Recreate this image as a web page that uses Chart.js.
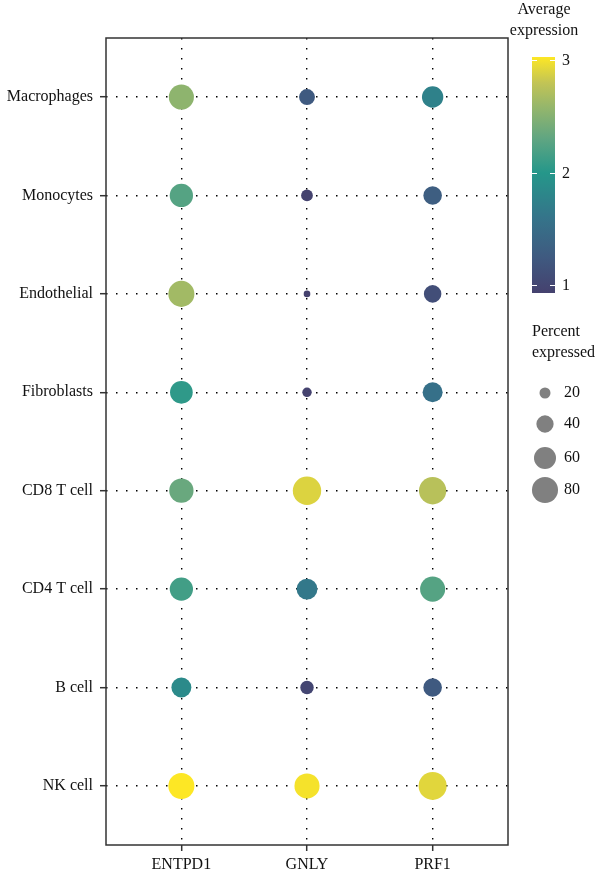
<!DOCTYPE html>
<html lang="en">
<head>
<meta charset="UTF-8">
<title>Dot plot</title>
<script src="https://cdn.jsdelivr.net/npm/chart.js"></script>
<style>
  html, body { margin: 0; padding: 0; background: #fff; }
</style>
</head>
<body>
<canvas id="dotPlot" width="600" height="871"></canvas>
<script>
// data
const genes = ["ENTPD1", "GNLY", "PRF1"];
const cellTypes = ["Macrophages", "Monocytes", "Endothelial", "Fibroblasts",
                   "CD8 T cell", "CD4 T cell", "B cell", "NK cell"];
// average expression, one row per cell type: ENTPD1, GNLY, PRF1
const avgExpr = [
  [2.55, 1.25, 1.75],
  [2.25, 0.95, 1.30],
  [2.65, 0.93, 1.10],
  [2.05, 0.95, 1.55],
  [2.35, 2.90, 2.75],
  [2.15, 1.65, 2.25],
  [1.85, 1.00, 1.25],
  [3.03, 3.00, 2.92]
];
// percent expressed, same layout
const pctExpr = [
  [75, 35, 57],
  [66, 22, 45],
  [80, 10, 41],
  [63, 16, 51],
  [71, 93, 87],
  [66, 55, 75],
  [51, 27, 45],
  [80, 75, 91]
];
const colorTicks = [1, 2, 3];
const sizeTicks = [20, 40, 60, 80];

// colour scale (viridis-like, as rendered in the figure)
const colorMin = 0.93, colorMax = 3.03;
const colorStops = [
  [0.93, '#45416e'],
  [1.25, '#3f5a80'],
  [1.60, '#35748a'],
  [2.00, '#25978a'],
  [2.30, '#5fa582'],
  [2.60, '#98b76a'],
  [2.80, '#c2c455'],
  [3.03, '#fde725']
];
function hexToRgb(h) {
  return [parseInt(h.slice(1, 3), 16), parseInt(h.slice(3, 5), 16), parseInt(h.slice(5, 7), 16)];
}
function colorFor(v) {
  if (v <= colorStops[0][0]) return colorStops[0][1];
  for (let i = 1; i < colorStops.length; i++) {
    if (v <= colorStops[i][0]) {
      const a = colorStops[i - 1], b = colorStops[i];
      const t = (v - a[0]) / (b[0] - a[0]);
      const ca = hexToRgb(a[1]), cb = hexToRgb(b[1]);
      const c = ca.map((x, k) => Math.round(x + (cb[k] - x) * t));
      return `rgb(${c[0]},${c[1]},${c[2]})`;
    }
  }
  return colorStops[colorStops.length - 1][1];
}
function radiusFor(p) {
  return Math.max(2.5, -2 + 1.68 * Math.sqrt(p));
}

const points = [];
cellTypes.forEach((c, i) => {
  genes.forEach((g, j) => {
    points.push({ x: j, y: i, avg: avgExpr[i][j], pct: pctExpr[i][j] });
  });
});

const fontFamily = '"Liberation Serif", "DejaVu Serif", serif';
const fontSize = 16;
const textColor = '#111';

// frame + the two legends on the right
const legendPlugin = {
  id: 'legendPlugin',
  afterDraw(chart) {
    const ctx = chart.ctx;
    const a = chart.chartArea;
    ctx.save();
    ctx.strokeStyle = '#333';
    ctx.lineWidth = 1.5;
    ctx.strokeRect(a.left, a.top, a.right - a.left, a.bottom - a.top);

    ctx.fillStyle = textColor;
    ctx.font = fontSize + 'px ' + fontFamily;
    ctx.textBaseline = 'middle';

    // colour bar
    ctx.textAlign = 'center';
    ctx.fillText('Average', 544, 10);
    ctx.fillText('expression', 544, 31);
    const bx = 532, bw = 23, bTop = 57, bBot = 293;
    const yOf = v => bBot - (v - colorMin) / (colorMax - colorMin) * (bBot - bTop);
    const grad = ctx.createLinearGradient(0, bBot, 0, bTop);
    colorStops.forEach(s => grad.addColorStop((s[0] - colorMin) / (colorMax - colorMin), s[1]));
    ctx.fillStyle = grad;
    ctx.fillRect(bx, bTop, bw, bBot - bTop);
    ctx.strokeStyle = '#fff';
    ctx.lineWidth = 1;
    ctx.textAlign = 'left';
    colorTicks.forEach(v => {
      const y = Math.round(yOf(v)) + 0.5;
      ctx.beginPath();
      ctx.moveTo(bx, y); ctx.lineTo(bx + 5, y);
      ctx.moveTo(bx + bw - 5, y); ctx.lineTo(bx + bw, y);
      ctx.stroke();
      ctx.fillStyle = textColor;
      ctx.fillText(String(v), 562, y);
    });

    // size legend
    ctx.fillStyle = textColor;
    ctx.fillText('Percent', 532, 332);
    ctx.fillText('expressed', 532, 353);
    const sizeY = [393, 424, 458, 490];
    sizeTicks.forEach((p, k) => {
      ctx.fillStyle = '#808080';
      ctx.beginPath();
      ctx.arc(545, sizeY[k], radiusFor(p), 0, Math.PI * 2);
      ctx.fill();
      ctx.fillStyle = textColor;
      ctx.fillText(String(p), 564, sizeY[k]);
    });
    ctx.restore();
  }
};

const gridOpts = {
  color: '#000',
  lineWidth: 1.4,
  tickLength: 6,
  tickColor: '#333',
  tickWidth: 1.5,
  tickBorderDash: []
};

new Chart(document.getElementById('dotPlot'), {
  type: 'scatter',
  data: {
    datasets: [{
      data: points,
      pointRadius: ctx => radiusFor(ctx.raw.pct),
      pointHoverRadius: ctx => radiusFor(ctx.raw.pct),
      pointBackgroundColor: ctx => colorFor(ctx.raw.avg),
      pointBorderWidth: 0,
      pointHoverBorderWidth: 0
    }]
  },
  options: {
    responsive: false,
    animation: false,
    events: [],
    layout: { padding: { top: 38, right: 92, left: 0, bottom: 0 } },
    plugins: { legend: { display: false }, tooltip: { enabled: false } },
    scales: {
      x: {
        type: 'linear',
        min: -0.6,
        max: genes.length - 0.4,
        afterBuildTicks: s => { s.ticks = genes.map((g, j) => ({ value: j })); },
        afterFit: s => { s.height = 26; },
        ticks: {
          padding: 4,
          color: textColor,
          font: { family: fontFamily, size: fontSize },
          callback: v => genes[v]
        },
        grid: gridOpts,
        border: { display: false, dash: [1.5, 8.5] }
      },
      y: {
        type: 'linear',
        reverse: true,
        min: -0.6,
        max: cellTypes.length - 0.4,
        afterBuildTicks: s => { s.ticks = cellTypes.map((c, i) => ({ value: i })); },
        afterFit: s => { s.width = 106; },
        ticks: {
          padding: 7,
          color: textColor,
          font: { family: fontFamily, size: fontSize },
          callback: v => cellTypes[v]
        },
        grid: gridOpts,
        border: { display: false, dash: [1.5, 8.5] }
      }
    }
  },
  plugins: [legendPlugin]
});
</script>
</body>
</html>
